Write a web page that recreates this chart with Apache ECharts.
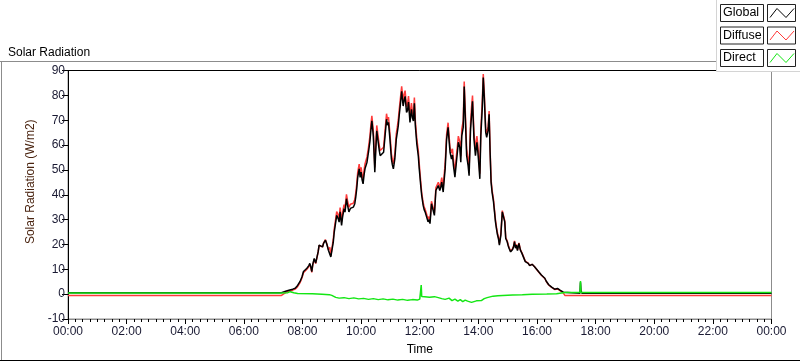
<!DOCTYPE html>
<html>
<head>
<meta charset="utf-8">
<script src="https://cdn.jsdelivr.net/npm/echarts@6/dist/echarts.min.js"></script>
<style>
    html, body { margin: 0; padding: 0; background: #fff; }
    #chart { width: 800px; height: 361px; }
</style>
</head>
<body>
<div id="chart"></div>
<script>
// minutes since midnight, shared by Global and Diffuse
let timeMin = [
    0, 437, 441, 447, 454, 460, 465, 470, 475, 479, 482, 486, 489, 493, 495, 497, 499, 501, 504, 507,
    509, 512, 514, 518, 521, 523, 527, 530, 533, 536, 538, 540, 543, 545, 547, 550, 553, 555, 557, 560,
    562, 565, 567, 570, 572, 575, 578, 581, 584, 587, 589, 591, 593, 596, 598, 600, 602, 604, 606, 608,
    612, 615, 618, 620, 622, 625, 628, 630, 632, 635, 637, 639, 642, 646, 649, 652, 654, 656, 659, 662,
    664, 666, 669, 672, 674, 676, 678, 680, 683, 686, 688, 690, 693, 695, 697, 700, 703, 705, 707, 709,
    711, 714, 717, 719, 722, 724, 727, 729, 731, 734, 737, 739, 741, 744, 746, 748, 750, 753, 755, 758,
    761, 763, 765, 768, 770, 772, 775, 778, 780, 782, 785, 787, 789, 792, 795, 797, 799, 802, 804, 806,
    809, 811, 813, 816, 819, 821, 824, 826, 828, 831, 834, 837, 839, 841, 843, 845, 848, 850, 852, 855,
    857, 860, 862, 864, 866, 868, 871, 873, 875, 877, 879, 881, 883, 886, 889, 892, 894, 896, 899, 901,
    903, 906, 908, 910, 912, 914, 916, 918, 920, 923, 926, 929, 932, 936, 939, 942, 945, 947, 950, 952,
    955, 958, 963, 966, 969, 972, 976, 979, 981, 984, 987, 990, 993, 996, 999, 1002, 1004, 1007, 1011, 1014,
    1017, 1048, 1049, 1050, 1051, 1052, 1440
];

let globalVals = [
    0.6, 0.6, 0.8, 1.3, 1.7, 2.0, 2.4, 3.5, 5.1, 7.0, 9.1, 9.8, 10.4, 11.5, 12.4, 11.0, 9.1, 12.0, 14.4, 12.5,
    13.0, 17.0, 19.7, 20.0, 19.0, 20.4, 21.7, 20.0, 17.7, 18.5, 15.0, 14.4, 20.9, 25.0, 27.7, 31.7, 30.4, 29.0, 33.1, 27.7,
    31.0, 34.4, 33.0, 38.4, 36.0, 33.1, 34.5, 33.7, 35.0, 36.4, 39.0, 42.4, 47.0, 50.4, 47.0, 49.1, 46.0, 44.4, 48.0, 50.5,
    53.1, 57.0, 61.5, 66.0, 69.7, 63.7, 49.1, 58.0, 65.7, 61.1, 58.0, 55.7, 55.1, 57.1, 63.7, 70.4, 68.0, 69.1, 62.4, 54.4,
    52.0, 50.4, 54.4, 62.4, 65.0, 67.7, 72.0, 75.7, 81.6, 75.7, 78.0, 79.6, 73.1, 74.0, 77.3, 69.1, 74.4, 71.0, 69.7, 76.8,
    67.7, 60.4, 55.7, 50.4, 43.7, 39.7, 35.7, 34.0, 33.1, 32.4, 29.1, 30.0, 28.4, 36.4, 37.0, 35.7, 31.7, 41.7, 42.0, 43.7,
    41.7, 43.0, 45.1, 41.1, 46.0, 50.4, 62.4, 67.1, 62.0, 57.1, 54.4, 56.0, 51.7, 47.1, 53.1, 57.0, 61.1, 59.0, 53.1, 63.7,
    67.1, 83.6, 72.4, 55.7, 51.7, 47.7, 66.4, 72.0, 77.6, 62.4, 55.7, 61.1, 57.1, 52.0, 46.4, 63.7, 75.0, 87.2, 79.7, 65.1,
    63.1, 66.0, 72.4, 57.1, 45.1, 41.1, 37.1, 33.1, 29.1, 26.4, 24.0, 22.4, 19.7, 23.7, 33.1, 33.7, 29.1, 22.4, 21.1, 19.5,
    18.4, 17.0, 17.7, 18.0, 19.1, 21.1, 18.5, 19.7, 17.5, 20.4, 17.7, 16.5, 15.7, 13.1, 12.8, 12.4, 11.5, 11.7, 12.0, 11.7,
    11.0, 10.4, 9.1, 8.5, 7.7, 7.0, 6.4, 5.2, 4.4, 3.8, 3.1, 2.8, 2.4, 2.0, 1.7, 2.3, 2.4, 1.6, 1.3, 0.8,
    0.4, 0.4, 4.8, 1.5, 2.0, 0.4, 0.4
];

let diffuseVals = [
    -0.5, -0.5, 0.2, 0.8, 1.3, 1.6, 2.0, 3.0, 4.6, 6.6, 8.6, 9.4, 10.0, 11.1, 12.0, 10.7, 8.8, 11.7, 14.1, 12.3,
    12.9, 16.9, 19.6, 19.9, 19.0, 20.5, 21.9, 20.2, 17.9, 18.8, 15.4, 14.9, 22.1, 26.3, 29.0, 33.2, 31.9, 30.6, 34.8, 29.3,
    32.7, 36.0, 34.6, 40.2, 37.8, 34.9, 36.2, 35.4, 36.6, 38.1, 40.8, 44.3, 49.0, 52.3, 49.0, 51.0, 47.9, 46.3, 49.9, 52.5,
    55.2, 59.0, 63.6, 68.1, 71.8, 65.6, 51.0, 60.1, 67.9, 63.3, 60.0, 57.8, 57.1, 59.1, 65.9, 72.6, 70.1, 71.3, 64.5, 56.5,
    54.1, 52.4, 56.6, 64.6, 67.2, 70.1, 74.3, 78.1, 83.6, 77.9, 80.4, 81.9, 75.4, 76.4, 79.7, 71.5, 76.9, 73.3, 72.0, 79.1,
    69.8, 62.5, 57.8, 52.3, 45.3, 40.8, 36.8, 35.1, 34.2, 33.5, 30.3, 31.2, 29.6, 37.4, 38.0, 36.8, 32.8, 42.8, 43.2, 45.0,
    43.1, 44.6, 46.9, 43.0, 48.0, 52.5, 64.3, 69.0, 63.7, 58.9, 56.8, 58.5, 54.0, 49.2, 55.7, 59.5, 63.6, 61.3, 55.5, 66.4,
    69.8, 85.6, 74.9, 58.4, 54.4, 50.2, 69.0, 75.2, 79.9, 64.8, 58.3, 63.6, 59.9, 54.5, 48.5, 66.4, 77.6, 88.6, 81.5, 66.7,
    64.7, 67.4, 73.7, 58.2, 46.1, 42.0, 38.0, 33.9, 29.9, 27.1, 24.7, 23.0, 20.3, 24.3, 33.6, 34.2, 29.6, 22.8, 21.5, 19.9,
    18.7, 17.3, 18.0, 18.3, 19.4, 21.4, 18.8, 20.0, 17.8, 20.6, 17.9, 16.7, 15.9, 13.3, 12.9, 12.5, 11.6, 11.8, 12.0, 11.7,
    11.0, 10.4, 9.0, 8.4, 7.6, 6.9, 6.3, 5.1, 4.3, 3.7, 3.0, 2.7, 2.3, 1.9, 1.6, 2.1, 2.2, 1.4, 1.0, 0.4,
    -0.5, -0.5, -0.9, -0.5, -0.5, -0.5, -0.5
];

// Direct has its own time base
let directTime = [
    0, 437, 450, 455, 462, 470, 500, 520, 535, 540, 543, 548, 555, 565, 575, 585, 595, 605, 615, 625,
    635, 645, 655, 665, 675, 685, 695, 705, 715, 720, 722, 723, 724, 730, 740, 750, 758, 765, 772, 780,
    786, 792, 798, 803, 808, 813, 818, 822, 826, 830, 836, 840, 846, 852, 858, 864, 870, 880, 890, 900,
    910, 930, 950, 980, 1000, 1017, 1048, 1049, 1050, 1440
];

let directVals = [
    0.5, 0.5, 0.6, 1.0, 0.6, 0.3, 0.2, 0.0, -0.2, -0.5, -1.2, -1.3, -1.6, -1.4, -1.8, -1.5, -1.9, -1.7, -2.1, -1.8,
    -2.2, -1.9, -2.3, -2.0, -2.4, -2.1, -2.5, -2.2, -2.4, -2.0, -1.5, 3.7, -0.9, -1.0, -1.2, -1.0, -1.4, -1.8, -2.1, -1.6,
    -2.6, -2.0, -2.8, -2.2, -3.0, -2.4, -2.8, -2.2, -3.3, -2.5, -2.7, -1.9, -2.6, -1.8, -1.4, -1.1, -0.8, -0.6, -0.5, -0.4,
    -0.3, -0.2, 0.0, 0.1, 0.2, 0.7, 0.7, 5.3, 0.7, 0.7
];

let seriesNames = ['Global', 'Diffuse', 'Direct'];
let seriesColors = ['#000000', '#ff3b3b', '#14e614'];
let yTicks = { min: -10, max: 90, step: 10 };

let pair = function(xs, ys) {
    return xs.map(function(x, i) { return [x, ys[i]]; });
};
let hhmm = function(v) {
    let h = Math.floor(v / 60) % 24;
    return (h < 10 ? '0' : '') + h + ':00';
};

let chart = echarts.init(document.getElementById('chart'));
let font = 'Liberation Sans, Arial, sans-serif';
let labelColor = '#1a1a33';

// legend boxes drawn like the LabVIEW plot legend
let legendGraphics = [{
    type: 'rect', z: 50,
    shape: { x: 716.5, y: -1, width: 90, height: 72.5 },
    style: { fill: '#fff', stroke: '#d4d4d4', lineWidth: 1 }
}];
seriesNames.forEach(function(name, i) {
    let top = 4.5 + i * 22.5;
    legendGraphics.push({
        type: 'rect', z: 51,
        shape: { x: 720.5, y: top, width: 43, height: 17 },
        style: { fill: '#fff', stroke: '#222', lineWidth: 1 }
    });
    legendGraphics.push({
        type: 'text', z: 52, left: 723, top: top + 2,
        style: { text: name, font: '12.5px ' + font, fill: '#000' }
    });
    legendGraphics.push({
        type: 'rect', z: 51,
        shape: { x: 767.5, y: top, width: 28, height: 17 },
        style: { fill: '#fff', stroke: '#222', lineWidth: 1 }
    });
    legendGraphics.push({
        type: 'polyline', z: 52,
        shape: { points: [[770, top + 13], [777, top + 4], [786, top + 13], [794, top + 4]] },
        style: { stroke: seriesColors[i], lineWidth: 1, fill: null }
    });
});

let options = {
    animation: false,
    title: {
        text: 'Solar Radiation',
        left: 3,
        top: 42,
        textStyle: { fontFamily: font, fontSize: 12, fontWeight: 'normal', color: '#000' }
    },
    grid: {
        left: 68, right: 28.5, top: 70.5, bottom: 39.5,
        show: true, borderColor: '#8c8c8c', borderWidth: 1, backgroundColor: '#fff'
    },
    xAxis: [{
        type: 'value',
        min: 0, max: 1440, interval: 120,
        name: 'Time',
        nameLocation: 'middle',
        nameGap: 25,
        nameTextStyle: { fontFamily: font, fontSize: 12, color: '#000' },
        axisLine: { show: true, onZero: false, lineStyle: { color: '#8c8c8c', width: 1 } },
        axisTick: { show: true, length: 5, lineStyle: { color: '#000' } },
        minorTick: { show: true, splitNumber: 8, length: 3, lineStyle: { color: '#000' } },
        axisLabel: { formatter: hhmm, fontFamily: font, fontSize: 12, color: labelColor, margin: 7 },
        splitLine: { show: false }
    }, {
        type: 'value', position: 'top',
        min: 0, max: 1440,
        axisLine: { show: true, onZero: false, lineStyle: { color: '#000', width: 1 } },
        axisTick: { show: false }, axisLabel: { show: false }, splitLine: { show: false }
    }],
    yAxis: {
        type: 'value',
        min: yTicks.min, max: yTicks.max, interval: yTicks.step,
        name: 'Solar Radiation (W/m2)',
        nameLocation: 'middle',
        nameGap: 31,
        nameTextStyle: { fontFamily: font, fontSize: 12, color: '#4a2410', padding: [0, 0, 0, 26] },
        axisLine: { show: true, onZero: false, lineStyle: { color: '#000', width: 1 } },
        axisTick: { show: true, length: 6, lineStyle: { color: '#000' } },
        axisLabel: { fontFamily: font, fontSize: 12, color: labelColor, margin: 3 },
        splitLine: { show: false }
    },
    series: [{
        name: 'Diffuse', type: 'line', showSymbol: false,
        data: pair(timeMin, diffuseVals),
        lineStyle: { color: seriesColors[1], width: 1.5 }, itemStyle: { color: seriesColors[1] }
    }, {
        name: 'Global', type: 'line', showSymbol: false,
        data: pair(timeMin, globalVals),
        lineStyle: { color: seriesColors[0], width: 1.5 }, itemStyle: { color: seriesColors[0] }
    }, {
        name: 'Direct', type: 'line', showSymbol: false,
        data: pair(directTime, directVals),
        lineStyle: { color: seriesColors[2], width: 1.5 }, itemStyle: { color: seriesColors[2] }
    }],
    graphic: [
        { type: 'line', z: 40, shape: { x1: 0, y1: 61.5, x2: 800, y2: 61.5 }, style: { stroke: '#8c8c8c', lineWidth: 1 } },
        { type: 'line', z: 40, shape: { x1: 1.5, y1: 61.5, x2: 1.5, y2: 361 }, style: { stroke: '#8c8c8c', lineWidth: 1 } },
        { type: 'line', z: 40, shape: { x1: 0, y1: 360.5, x2: 800, y2: 360.5 }, style: { stroke: '#000', lineWidth: 1 } }
    ].concat(legendGraphics)
};

chart.setOption(options);
</script>
</body>
</html>
